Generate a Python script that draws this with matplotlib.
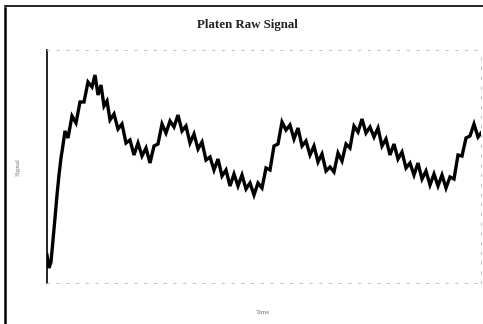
import matplotlib
matplotlib.use("Agg")
import matplotlib.pyplot as plt
from matplotlib.lines import Line2D

# sample index (time) and raw signal amplitude
time = [0, 2, 4, 6, 8, 10, 12, 14, 16,
        18, 21, 25, 29, 33, 37, 41, 45, 48, 51, 54, 57, 60, 63, 67, 71, 75, 79,
        83, 87, 91, 95, 99, 103, 107, 111, 115, 119, 123, 127, 131, 135, 139,
        143, 147, 151, 155, 159, 163, 167, 171, 175, 179, 183, 187, 191, 195,
        199, 203, 207, 211, 215, 219, 223, 227, 231, 235, 239, 243, 247, 251,
        255, 259, 263, 267, 271, 275, 279, 283, 287, 291, 295, 299, 303, 307,
        311, 315, 319, 323, 327, 331, 335, 339, 343, 347, 351, 355, 359, 363,
        367, 371, 375, 379, 383, 387, 391, 395, 399, 403, 407, 411, 415, 419,
        423, 427, 431, 434]
signal = [28, 15, 21, 43, 65, 88, 108, 125, 138,
          152, 145, 167, 160, 181, 181, 201, 196, 208, 188, 198, 177, 182, 163,
          169, 154, 159, 140, 143, 128, 140, 127, 135, 120, 137, 139, 159, 150,
          162, 156, 168, 152, 157, 140, 149, 134, 141, 123, 126, 113, 124, 107,
          113, 97, 109, 97, 108, 94, 100, 88, 100, 95, 115, 113, 137, 139, 161,
          153, 158, 144, 155, 137, 142, 128, 137, 121, 129, 112, 116, 111, 130,
          122, 139, 135, 157, 151, 164, 150, 156, 146, 155, 137, 144, 128, 139,
          124, 131, 115, 120, 108, 120, 104, 112, 98, 109, 97, 108, 95, 106, 104,
          128, 127, 145, 147, 159, 146, 150]

title = "Platen Raw Signal"
xlabel = "Time"
ylabel = "Signal"

W, H = 483, 324
fig = plt.figure(figsize=(W / 100, H / 100), dpi=100)
ax = fig.add_axes([47 / W, 1 - 283 / H, (481 - 47) / W, (283 - 50) / H])

ax.plot(time, signal, color="black", linewidth=2.4, solid_joinstyle="miter")
ax.set_xlim(0, 434)
ax.set_ylim(0, 233)

ax.spines["left"].set_linewidth(1.2)
ax.spines["left"].set_color("black")
for s in ("top", "bottom", "right"):
    ax.spines[s].set_color("#bbbbbb")
    ax.spines[s].set_linewidth(0.7)
    ax.spines[s].set_linestyle((0, (2, 8)))
ax.set_xticks([])
ax.set_yticks([])

fig.text(247 / W, 1 - 25 / H, title, ha="center", va="center",
         family="Liberation Serif", fontweight="bold", fontsize=9.3, color="#222222")
fig.text(263 / W, 1 - 312 / H, xlabel, ha="center", va="center",
         family="Liberation Serif", fontsize=5, color="#777777")
fig.text(18 / W, 1 - 167 / H, ylabel, ha="center", va="center", rotation=90,
         family="Liberation Serif", fontsize=5, color="#777777")

# figure border (left and top edges, as in the scan)
fig.add_artist(Line2D([5 / W, 5 / W], [0, 1 - 8 / H], transform=fig.transFigure,
                      color="black", linewidth=1.8))
fig.add_artist(Line2D([5 / W, 1], [1 - 6 / H, 1 - 6 / H], transform=fig.transFigure,
                      color="black", linewidth=1.2))

fig.savefig("out.png", dpi=100)
